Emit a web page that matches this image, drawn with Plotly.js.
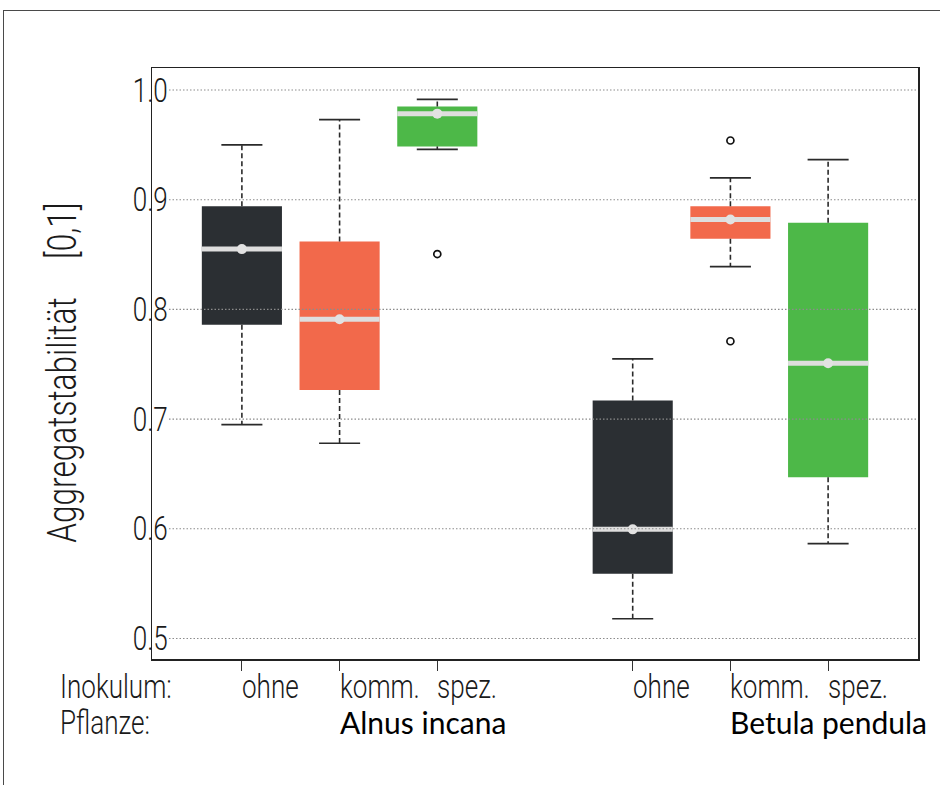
<!DOCTYPE html>
<html>
<head>
<meta charset="utf-8">
<script src="https://cdn.plot.ly/plotly-3.0.1.min.js"></script>
<style>
  html, body { margin: 0; padding: 0; background: #ffffff; }
  #wrap { position: relative; width: 940px; height: 785px; overflow: hidden; }
  #frame { position: absolute; left: 3px; top: 10px; width: 960px; height: 800px;
           border-left: 1.5px solid #4a4a4a; border-top: 1.5px solid #4a4a4a; pointer-events: none; }
  #chart { position: absolute; left: 0; top: 0; width: 940px; height: 785px; }
</style>
</head>
<body>
<div id="wrap">
  <div id="chart"></div>
  <div id="frame"></div>
</div>
<script>
// ---------------- data ----------------
const plants = ['Alnus incana', 'Betula pendula'];
const inoculum = ['ohne', 'komm.', 'spez.'];
// one entry per box: Alnus ohne, komm., spez., Betula ohne, komm., spez.
const upperWhisker = [0.950, 0.973, 0.9915, 0.755, 0.920, 0.9365];
const q3Values     = [0.894, 0.862, 0.985, 0.717, 0.894, 0.879];
const medianValues = [0.855, 0.791, 0.9785, 0.5995, 0.882, 0.751];
const q1Values     = [0.786, 0.7265, 0.9486, 0.559, 0.8645, 0.647];
const lowerWhisker = [0.695, 0.678, 0.946, 0.518, 0.839, 0.5865];
const outlierBox    = [2, 4, 4];
const outlierValues = [0.8505, 0.954, 0.771];
const yTickValues = [0.5, 0.6, 0.7, 0.8, 0.9, 1.0];
const yTickText   = ['0.5', '0.6', '0.7', '0.8', '0.9', '1.0'];
const rowLabels = ['Inokulum:', 'Pflanze:'];
const yTitleText = 'Aggregatstabilität\u00A0\u00A0\u00A0\u00A0\u00A0[0,1]';

// ---------------- style ----------------
const boxColors = ['#2b2f33', '#f2694b', '#4db848'];
const narrow = 'Roboto, "Liberation Sans", sans-serif';
const narrowWeight = 300;
const plantFont = 'Lato, "Open Sans", sans-serif';
const condenseFactor = 0.79;
const boxWidth = 0.82;
const capHalf = 0.21;

const nBox = q1Values.length;
const pos = [];
for (let k = 0; k < nBox; k++) pos.push(Math.floor(k / inoculum.length) * (inoculum.length + 1) + (k % inoculum.length) + 1);
const colors = pos.map((p, k) => boxColors[k % inoculum.length]);

const boxTrace = {
  type: 'bar', x: pos, base: q1Values,
  y: q3Values.map((v, k) => v - q1Values[k]),
  width: boxWidth, marker: { color: colors, line: { width: 0 } },
  hoverinfo: 'skip', showlegend: false
};
const wx = [], wy = [], cx = [], cy = [], mx = [], my = [];
for (let k = 0; k < nBox; k++) {
  const p = pos[k];
  wx.push(p, p, null, p, p, null);
  wy.push(q3Values[k], upperWhisker[k], null, q1Values[k], lowerWhisker[k], null);
  cx.push(p - capHalf, p + capHalf, null, p - capHalf, p + capHalf, null);
  cy.push(upperWhisker[k], upperWhisker[k], null, lowerWhisker[k], lowerWhisker[k], null);
  mx.push(p - boxWidth / 2, p + boxWidth / 2, null);
  my.push(medianValues[k], medianValues[k], null);
}
const whiskerTrace = { type: 'scatter', mode: 'lines', x: wx, y: wy,
  line: { color: '#2a2a2a', width: 1.6, dash: '5px,3px' }, hoverinfo: 'skip', showlegend: false };
const capTrace = { type: 'scatter', mode: 'lines', x: cx, y: cy,
  line: { color: '#2a2a2a', width: 1.7 }, hoverinfo: 'skip', showlegend: false };
const medianTrace = { type: 'scatter', mode: 'lines', x: mx, y: my,
  line: { color: '#dedede', width: 5 }, hoverinfo: 'skip', showlegend: false };
const medianDot = { type: 'scatter', mode: 'markers', x: pos, y: medianValues,
  marker: { color: '#e2e2e2', size: 10 }, hoverinfo: 'skip', showlegend: false };
const outlierTrace = { type: 'scatter', mode: 'markers',
  x: outlierBox.map(b => pos[b]), y: outlierValues,
  marker: { symbol: 'circle-open', size: 7, color: '#111111', line: { width: 1.7, color: '#111111' } },
  hoverinfo: 'skip', showlegend: false };

const L = 152, R = 918, T = 68, B = 659;
const pw = R - L, ph = B - T;
const px2paperX = x => (x - L) / pw;
const px2paperY = y => (B - y) / ph;

const shapes = yTickValues.map(v => ({
  type: 'line', xref: 'paper', yref: 'y', x0: px2paperX(169), x1: 1, y0: v, y1: v,
  line: { color: '#8c8c8c', width: 1.1, dash: '1.5px,2px' }, layer: 'above'
}));

const annotations = [];
const condense = {};
function addAnn(a, cond) { if (cond) condense[annotations.length] = cond; annotations.push(a); }
const nFont = (size) => ({ family: narrow, size: size, color: '#1a1a1a', weight: narrowWeight });

yTickValues.forEach((v, i) => addAnn({
  xref: 'paper', yref: 'y', x: px2paperX(150.5), y: v, xanchor: 'center', yanchor: 'middle',
  text: yTickText[i], showarrow: false, font: nFont(33)
}, 'center'));
addAnn({
  xref: 'paper', yref: 'paper', x: px2paperX(62), y: px2paperY(373), xanchor: 'center', yanchor: 'middle',
  textangle: -90, text: yTitleText, showarrow: false, font: nFont(40)
}, 'center');
const row1 = px2paperY(686), row2 = px2paperY(722);
addAnn({ xref: 'paper', yref: 'paper', x: px2paperX(58), y: row1, xanchor: 'left', yanchor: 'middle',
  text: rowLabels[0], showarrow: false, font: nFont(33) }, 'left');
addAnn({ xref: 'paper', yref: 'paper', x: px2paperX(58), y: row2, xanchor: 'left', yanchor: 'middle',
  text: rowLabels[1], showarrow: false, font: nFont(33) }, 'left');
for (let k = 0; k < nBox; k++) {
  addAnn({ xref: 'x', yref: 'paper', x: pos[k], y: row1, xanchor: 'left', yanchor: 'middle', xshift: -2,
    text: inoculum[k % inoculum.length], showarrow: false, font: nFont(33) }, 'left');
}
plants.forEach((pl, g) => addAnn({
  xref: 'x', yref: 'paper', x: pos[g * inoculum.length + 1], y: row2, xanchor: 'left', yanchor: 'middle', xshift: -2,
  text: pl, showarrow: false, font: { family: plantFont, size: 30, color: '#000000' }
}, null));

const layout = {
  width: 940, height: 785,
  margin: { l: L, r: 940 - R, t: T, b: 785 - B, pad: 0 },
  paper_bgcolor: 'rgba(0,0,0,0)', plot_bgcolor: '#ffffff',
  showlegend: false, barmode: 'overlay',
  xaxis: { range: [0.08, 7.92], tickmode: 'array', tickvals: pos, showticklabels: false,
    ticks: 'outside', ticklen: 10, tickwidth: 1.2, tickcolor: '#333333',
    showgrid: false, zeroline: false, showline: true, linecolor: '#222222', linewidth: 1.5, mirror: true, fixedrange: true },
  yaxis: { range: [0.4813, 1.0201], tickmode: 'array', tickvals: yTickValues, showticklabels: false,
    ticks: '', showgrid: false, zeroline: false, showline: true, linecolor: '#222222', linewidth: 1.5, mirror: true, fixedrange: true },
  shapes: shapes,
  annotations: annotations
};

Plotly.newPlot('chart', [boxTrace, whiskerTrace, capTrace, medianTrace, medianDot, outlierTrace], layout,
  { displayModeBar: false, staticPlot: true }).then(() => {
  document.querySelectorAll('#chart g.annotation').forEach(g => {
    const idx = +g.getAttribute('data-index');
    const mode = condense[idx];
    if (!mode) return;
    const t = g.querySelector('text.annotation-text');
    if (!t) return;
    const bb = t.getBBox();
    const ax = mode === 'left' ? bb.x : bb.x + bb.width / 2;
    t.setAttribute('transform', 'translate(' + ax + ',0) scale(' + condenseFactor + ',1) translate(' + (-ax) + ',0)');
  });
});
</script>
</body>
</html>
